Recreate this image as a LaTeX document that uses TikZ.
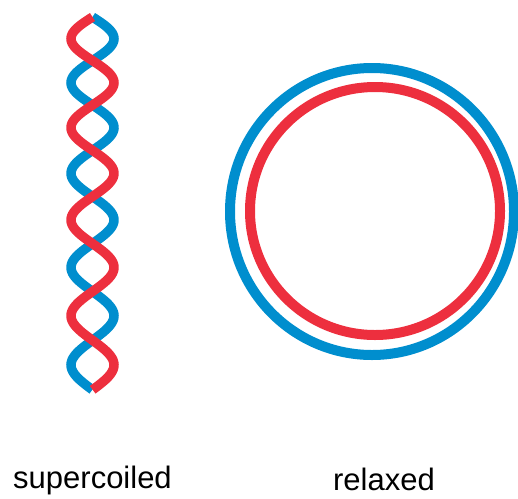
\documentclass[tikz,border=0pt]{standalone}
\usepackage{fontspec}
\setmainfont{Liberation Sans}
\definecolor{strandblue}{RGB}{0,142,206}
\definecolor{strandred}{RGB}{237,47,62}
\begin{document}
\begin{tikzpicture}[x=1pt,y=-1pt,
  strand/.style={line width=9.5pt},
  ring/.style={line width=10pt},
  caption/.style={font=\fontsize{31}{36}\selectfont, anchor=base, inner sep=0pt}]
\useasboundingbox (0,0) rectangle (518,498);

% supercoiled pair: two strands winding round each other, red in front
\draw[strand, strandblue, domain=0:8, samples=240, smooth, variable=\t]
  plot ({92.5+21.5*sin(180*\t)}, {17+43.17*\t+0.43*\t*\t});
\draw[strand, strandred, domain=0:8, samples=240, smooth, variable=\t]
  plot ({92.5-21.5*sin(180*\t)}, {17+43.17*\t+0.43*\t*\t});

% relaxed circle: two concentric strands
\draw[ring, strandblue] (372,211.5) ellipse [x radius=142, y radius=143.5];
\draw[ring, strandred] (375,211) ellipse [x radius=125, y radius=124];

% captions
\node[caption] (lblsuper) at (92.5,488) {supercoiled};
\node[caption] (lblrelax) at (384,490) {relaxed};
\end{tikzpicture}
\end{document}
